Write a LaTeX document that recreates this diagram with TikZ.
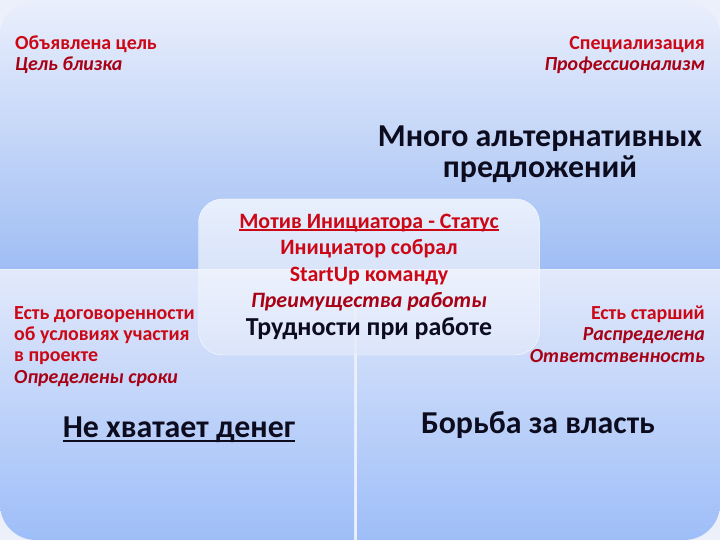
\documentclass[tikz,border=0pt]{standalone}
\usepackage{fontspec}
\setmainfont{Carlito}
\definecolor{txtred}{RGB}{204,8,22}
\definecolor{txtdark}{RGB}{168,0,20}
\definecolor{txtnavy}{RGB}{12,12,30}
\definecolor{paneltop}{RGB}{234,239,252}
\definecolor{panelbot}{RGB}{160,190,244}
\definecolor{lowtop}{RGB}{226,233,251}
\definecolor{lowbot}{RGB}{158,190,248}
\definecolor{seam}{RGB}{236,240,250}

% underline: depth below baseline, thickness, text
\newcommand{\thickul}[3]{{\setbox0\hbox{#3}\rlap{\raisebox{-#1}{\rule{\wd0}{#2}}}\box0}}

\tikzset{
    note/.style={inner sep=0pt, text=txtred, font=\fontsize{20}{21.2}\selectfont\bfseries},
    bigtext/.style={inner sep=0pt, text=txtnavy, font=\fontsize{32}{31.5}\selectfont\bfseries},
    motivebox/.style={minimum width=341bp, minimum height=156bp, rounded corners=24bp,
        top color=white, bottom color=lowtop, fill opacity=0.7, text opacity=1,
        draw=white, draw opacity=0.9, align=center, inner sep=0pt, text=txtred,
        font=\fontsize{22}{26.3}\selectfont\bfseries},
}

\begin{document}
\begin{tikzpicture}[x=1bp, y=-1bp]
    \useasboundingbox (0,0) rectangle (720,540);
    \fill[seam] (0,0) rectangle (720,540);
    \begin{scope}
        \clip[rounded corners=36] (0,0) rectangle (720,540);
        \shade[top color=paneltop, bottom color=panelbot] (0,0) rectangle (720,268);
        \shade[top color=lowtop, bottom color=lowbot] (0,270) rectangle (354,540);
        \shade[top color=lowtop, bottom color=lowbot] (357,270) rectangle (720,540);
    \end{scope}

    \node(goal)[note, anchor=base west, align=left] at (15,71)
        {Объявлена цель\\{\color{txtdark}\itshape Цель близка}};
    \node(spec)[note, anchor=base east, align=right] at (705,71)
        {Специализация\\{\color{txtdark}\itshape Профессионализм}};
    \node(offers)[bigtext, anchor=base, align=center] at (540,178)
        {Много альтернативных\\предложений};

    \node(motive)[motivebox] at (369,277)
        {\thickul{2.2bp}{1.6bp}{Мотив Инициатора - Статус}\\
         Инициатор собрал\\
         StartUp команду\\
         {\color{txtdark}\itshape Преимущества работы}\\[2bp]
         {\fontsize{26}{28}\selectfont\color{txtnavy}Трудности при работе}};

    \node(terms)[note, anchor=base west, align=left] at (14,383)
        {Есть договоренности\\об условиях участия\\в проекте\\{\color{txtdark}\itshape Определены сроки}};
    \node(senior)[note, anchor=base east, align=right] at (705,362)
        {Есть старший\\{\color{txtdark}\itshape Распределена}\\{\color{txtdark}\itshape Ответственность}};

    \node(money)[bigtext, anchor=base] at (179,437) {\thickul{5bp}{2.4bp}{Не хватает денег}};
    \node(power)[bigtext, anchor=base] at (538,433) {Борьба за власть};
\end{tikzpicture}
\end{document}
